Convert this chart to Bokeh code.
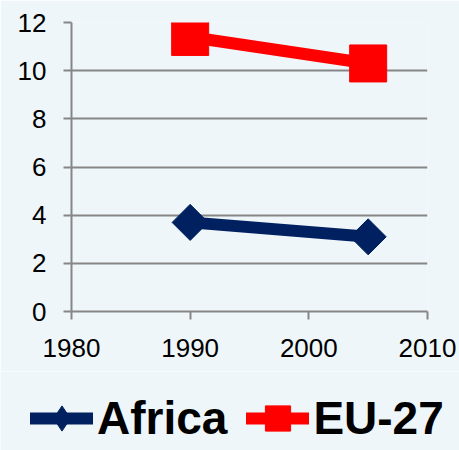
import math
from bokeh.plotting import figure
from bokeh.layouts import column
from bokeh.models import Range1d, FixedTicker, Legend, LegendItem
from bokeh.embed import file_html
from bokeh.resources import INLINE

# ---- data ----
years = [1990, 2005]
africa = [3.7, 3.1]
eu27 = [11.4, 10.3]
series_names = ["Africa", "EU-27"]
x_ticks = [1980, 1990, 2000, 2010]
y_ticks = [0, 2, 4, 6, 8, 10, 12]

# ---- styles ----
BG = "#EEF6FA"
GRID = "#868686"
NAVY = "#002060"
RED = "#FF0000"
FONT = "Liberation Sans"

p = figure(frame_width=356, frame_height=289,
           min_border_left=71, min_border_right=32,
           min_border_top=22, min_border_bottom=60,
           x_range=Range1d(1980, 2010), y_range=Range1d(0, 12),
           output_backend="svg", toolbar_location=None,
           background_fill_color=BG, border_fill_color=BG,
           outline_line_color=None)

# axes
for ax in (p.xaxis[0], p.yaxis[0]):
    ax.axis_line_color = GRID
    ax.axis_line_width = 2
    ax.major_tick_line_color = GRID
    ax.major_tick_line_width = 2
    ax.major_tick_in = 0
    ax.major_tick_out = 8
    ax.minor_tick_line_color = None
    ax.major_label_text_font = FONT
    ax.major_label_text_font_size = "26px"
    ax.major_label_text_color = "#000000"
p.xaxis[0].ticker = FixedTicker(ticks=x_ticks)
p.yaxis[0].ticker = FixedTicker(ticks=y_ticks)
p.xaxis[0].major_label_standoff = 19
p.yaxis[0].major_label_standoff = 17

p.xgrid.visible = False
p.ygrid[0].ticker = FixedTicker(ticks=y_ticks)
p.ygrid.grid_line_color = GRID
p.ygrid.grid_line_width = 2

# series
p.line(years, africa, line_color=NAVY, line_width=12)
p.scatter(years, africa, marker="square", size=25.5, angle=math.pi / 4,
          fill_color=NAVY, line_color=NAVY)
p.line(years, eu27, line_color=RED, line_width=12)
p.scatter(years, eu27, marker="square", size=37, fill_color=RED, line_color=RED)

# ---- legend strip below the chart ----
lg = figure(width=459, height=79, min_border=0,
            x_range=Range1d(0, 1), y_range=Range1d(0, 1),
            x_axis_location=None, y_axis_location=None,
            output_backend="svg", toolbar_location=None,
            background_fill_color=BG, border_fill_color=BG,
            outline_line_color=None)
lg.grid.visible = False

legend_x = 30
if "frame_align" in lg.properties():
    lg.frame_align = False
    p.frame_align = False
else:
    legend_x = 30 - 71

# same series; they fall outside this strip's ranges, only their legend glyphs show
la_line = lg.line(years, africa, line_color=NAVY, line_width=12, line_cap="round")
la_pts = lg.scatter(years, africa, marker="diamond", size=25,
                    fill_color=NAVY, line_color=NAVY)
le_line = lg.line(years, eu27, line_color=RED, line_width=12, line_cap="round")
le_pts = lg.scatter(years, eu27, marker="square", size=37,
                    fill_color=RED, line_color=RED)

legend = Legend(items=[LegendItem(label=series_names[0], renderers=[la_line, la_pts]),
                       LegendItem(label=series_names[1], renderers=[le_line, le_pts])],
                location=(legend_x, 0), orientation="horizontal",
                glyph_width=63, glyph_height=64, label_standoff=4, spacing=19,
                padding=0, margin=0, border_line_color=None,
                background_fill_alpha=0, inactive_fill_alpha=0,
                label_text_font=FONT, label_text_font_size="46px",
                label_text_font_style="bold", label_text_color="#000000")
lg.add_layout(legend, "center")

layout = column(p, lg, spacing=0)
open("out.html", "w").write(file_html(layout, INLINE))
